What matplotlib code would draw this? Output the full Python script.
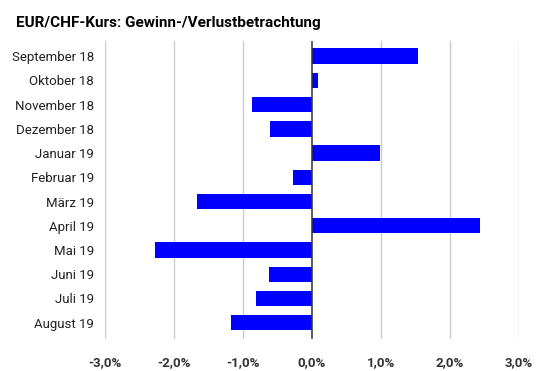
import matplotlib
matplotlib.use("Agg")
import matplotlib.pyplot as plt

# Monatswerte (Veraenderung in %)
monate = ["September 18", "Oktober 18", "November 18", "Dezember 18",
          "Januar 19", "Februar 19", "März 19", "April 19",
          "Mai 19", "Juni 19", "Juli 19", "August 19"]
werte = [1.53, 0.09, -0.87, -0.61, 0.98, -0.27, -1.67, 2.43, -2.28, -0.62, -0.81, -1.18]
ticks = [-3, -2, -1, 0, 1, 2, 3]

plt.rcParams['font.family'] = ['Roboto', 'DejaVu Sans']

fig = plt.figure(figsize=(5.4, 3.71), dpi=100)
ax = fig.add_axes([0.1944, 0.0863, 0.7666, 0.8037])

pos = list(range(len(monate)))
ax.barh(pos, werte, height=0.635, color="#0000ff", linewidth=0, zorder=3)

ax.set_xlim(-3, 3)
ax.set_ylim(11.67, -0.63)
ax.set_xticks(ticks)
ax.set_xticklabels([("%.1f%%" % t).replace(".", ",") for t in ticks],
                   fontweight="bold", color="#333333", fontsize=9.5)
ax.set_yticks(pos)
ax.set_yticklabels(monate, fontsize=9.5, color="#222222")
ax.tick_params(length=0)
ax.tick_params(axis="x", pad=12)
ax.tick_params(axis="y", pad=8)

# Gitternetz, Nulllinie dunkel
for t in ticks:
    if t == 0:
        ax.axvline(t, color="#333333", lw=1.1, zorder=4)
    else:
        ax.axvline(t, color="#cccccc", lw=1, zorder=1)

for s in ax.spines.values():
    s.set_visible(False)

fig.text(16 / 540, 1 - 23 / 371, "EUR/CHF-Kurs: Gewinn-/Verlustbetrachtung",
         fontsize=11, fontweight="bold", color="#000000", va="center", ha="left")

fig.savefig("out.png", dpi=100)
